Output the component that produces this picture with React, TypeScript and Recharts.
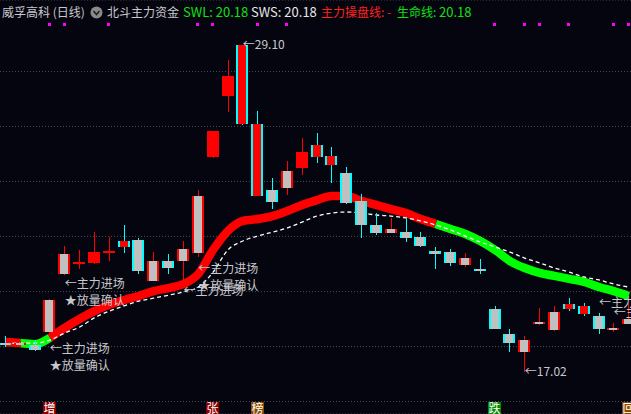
import React from 'react';
import { ComposedChart, Bar, Line, Scatter, XAxis, YAxis, CartesianGrid } from 'recharts';

const W = 631;
const H = 414;
const BG = '#05050f';
const RED = '#ff0000';
const CYAN = '#00ffff';
const GRAY = '#c0c0c0';
const TEXT = '#c8c8cc';
const CJK = '"Noto Sans CJK SC", "Noto Sans", sans-serif';

// ---- data ----
const opens = [18.11, 18.02, 18.02, 18.5, 20.64, 21.03, 21.05, 21.42, 21.86, 21.9, 20.39, 21.13, 21.13, 21.43, 24.96, 27.23, 29.1, 26.18, 23.74, 23.83, 24.57, 25.41, 25.0, 24.36, 23.35, 22.44, 22.14, 22.19, 22.0, 21.49, 21.45, 20.98, 20.84, 19.34, 18.42, 17.77, 18.8, 18.57, 19.53, 19.47, 19.09, 18.57, 18.79];
const closes = [18.0, 18.09, 17.85, 19.68, 21.38, 21.1, 21.46, 21.49, 21.64, 20.76, 21.13, 20.87, 21.56, 23.52, 25.92, 27.96, 26.19, 23.53, 23.31, 24.45, 25.15, 24.97, 24.67, 23.27, 22.45, 22.14, 22.3, 21.98, 21.69, 21.37, 21.04, 21.23, 20.74, 18.62, 18.08, 18.2, 18.88, 19.24, 19.35, 19.15, 18.61, 18.66, 18.98];
const highs = [18.35, 18.17, 18.2, 19.72, 21.67, 21.53, 22.2, 22.0, 22.45, 21.98, 21.45, 21.38, 21.86, 23.74, 25.94, 28.55, 29.1, 26.66, 24.2, 24.81, 25.68, 25.86, 25.34, 24.6, 23.6, 22.88, 22.7, 22.7, 22.19, 21.63, 21.56, 21.41, 21.18, 19.46, 18.61, 18.35, 19.4, 19.47, 19.76, 19.58, 19.19, 18.84, 19.57];
const lows = [17.94, 17.94, 17.8, 18.46, 20.6, 20.83, 21.03, 21.13, 21.43, 20.64, 20.37, 20.64, 20.42, 21.26, 24.94, 26.64, 26.14, 23.52, 23.07, 23.56, 24.3, 24.75, 24.01, 23.23, 21.98, 22.08, 22.13, 21.83, 21.65, 20.81, 20.94, 20.91, 20.63, 18.61, 17.77, 17.02, 18.79, 18.53, 19.27, 19.1, 18.42, 18.51, 18.78];
// 1 = body drawn solid (主力 highlighted day)
const solidBody = [0, 0, 0, 0, 0, 1, 1, 1, 1, 0, 0, 0, 0, 0, 1, 1, 1, 1, 0, 0, 1, 1, 1, 0, 0, 0, 0, 0, 0, 0, 0, 0, 0, 0, 0, 0, 0, 0, 1, 1, 0, 0, 0];

// 生命线 / 主力操盘线 (thick) and SWS (dashed)
const lifeLine = [18.13, 18.09, 18.05, 18.28, 18.65, 18.98, 19.27, 19.5, 19.68, 19.83, 20.01, 20.12, 20.27, 20.64, 21.53, 22.23, 22.6, 22.67, 22.78, 22.97, 23.19, 23.37, 23.52, 23.52, 23.34, 23.19, 23.04, 22.89, 22.67, 22.49, 22.3, 22.12, 21.86, 21.53, 21.12, 20.86, 20.68, 20.57, 20.46, 20.35, 20.16, 20.01, 19.83];
// trend of each segment i -> i+1 : r = 主力操盘 (red), g = 生命线 (green)
const lifeTrend = ['r', 'g', 'g', 'r', 'r', 'r', 'r', 'r', 'r', 'r', 'r', 'r', 'r', 'r', 'r', 'r', 'r', 'r', 'r', 'r', 'r', 'r', 'r', 'r', 'r', 'r', 'r', 'r', 'r', 'g', 'g', 'g', 'g', 'g', 'g', 'g', 'g', 'g', 'g', 'g', 'g', 'g'];
const swsLine = [18.05, 18.09, 18.09, 18.2, 18.46, 18.68, 19.02, 19.27, 19.46, 19.64, 19.75, 19.86, 19.98, 20.16, 20.71, 21.53, 21.86, 22.04, 22.19, 22.34, 22.56, 22.78, 22.89, 22.93, 22.89, 22.82, 22.78, 22.71, 22.6, 22.45, 22.27, 22.04, 21.82, 21.64, 21.45, 21.23, 21.05, 20.86, 20.71, 20.53, 20.42, 20.27, 20.16];

const gridPrices = [15.93, 17.96, 19.99, 22.03, 24.06, 26.09, 28.12];
const Y_DOMAIN = [15.47, 30.76];
const X_DOMAIN = [-0.36, 42.16];

const notes = [
  { i: 3, price: 17.87, lines: ['←主力进场', '★放量确认'] },
  { i: 4, price: 20.27, lines: ['←主力进场', '★放量确认'] },
  { i: 12, price: 20.01, lines: ['←主力进场'] },
  { i: 13, price: 20.83, lines: ['←主力进场', '★放量确认'] },
  { i: 40, price: 19.57, lines: ['←主力进场'] },
  { i: 41, price: 19.2, lines: ['←主力进场'] },
];
const extremes = [
  { i: 16, price: 29.1, text: '←29.10' },
  { i: 35, price: 17.02, text: '←17.02' },
];
const signalDays = [3, 4, 7, 13, 14, 17, 19, 33, 35, 36, 38, 41, 42];
const SIGNAL_ROW = 29.89;
const badges = [
  { i: 3, ch: '增', kind: 'red' },
  { i: 14, ch: '张', kind: 'red' },
  { i: 17, ch: '榜', kind: 'brown' },
  { i: 33, ch: '跌', kind: 'green' },
  { i: 42, ch: '回', kind: 'brown' },
];
const BADGE_ROW = 15.71;

// ---- build tables ----
const rows = opens.map((o, i) => {
  const redOn = lifeTrend[i] === 'r' || lifeTrend[i - 1] === 'r';
  const greenOn = lifeTrend[i] === 'g' || lifeTrend[i - 1] === 'g';
  return {
    i,
    open: o,
    close: closes[i],
    high: highs[i],
    low: lows[i],
    solid: solidBody[i],
    range: [lows[i], highs[i]],
    lifeRed: redOn ? lifeLine[i] : null,
    lifeGreen: greenOn ? lifeLine[i] : null,
    sws: swsLine[i],
  };
});
const signalData = signalDays.map((i) => ({ i, v: SIGNAL_ROW }));
const badgeData = badges.map((b) => ({ ...b, v: BADGE_ROW }));

const Candle = (props: any) => {
  const { x, y, width, height, payload } = props;
  if (x == null || y == null || !payload) return null;
  const h = Math.abs(height);
  const top0 = Math.min(y, y + height);
  const ppu = h / (payload.high - payload.low);
  const py = (v: number) => top0 + (payload.high - v) * ppu;
  const up = payload.close >= payload.open;
  const edge = up ? RED : CYAN;
  const fill = payload.solid ? RED : GRAY;
  const cx = Math.round(x + width / 2);
  const bt = Math.round(py(Math.max(payload.open, payload.close)));
  const bb = Math.round(py(Math.min(payload.open, payload.close)));
  const bh = Math.max(bb - bt, 2);
  const left = cx - 6;
  return (
    <g shapeRendering="crispEdges">
      <rect x={cx} y={Math.round(top0)} width={1} height={Math.max(Math.round(h), 1)} fill={edge} />
      <rect x={left} y={bt} width={12} height={bh} fill={edge} />
      <rect x={left + 2} y={bt} width={8} height={bh} fill={fill} />
    </g>
  );
};

const NoteShape = (props: any) => {
  const { cx, cy, payload } = props;
  return (
    <g>
      {payload.lines.map((t: string, k: number) => (
        <text key={k} x={cx} y={cy + k * 17} dy="0.36em" fill={TEXT} fontSize={12} fontFamily={CJK}>
          {t}
        </text>
      ))}
    </g>
  );
};

const ExtremeShape = (props: any) => {
  const { cx, cy, payload } = props;
  return (
    <text x={cx} y={cy} dy="0.36em" fill={TEXT} fontSize={12} fontFamily={CJK}>
      {payload.text}
    </text>
  );
};

const SignalShape = (props: any) => {
  const { cx, cy } = props;
  return <rect x={Math.round(cx) - 2} y={Math.round(cy) - 1} width={3} height={3} fill="#ff00ff" />;
};

const badgeColor: Record<string, string> = { red: '#8e0000', brown: '#8a4a00', green: '#008a00' };
const BadgeShape = (props: any) => {
  const { cx, cy, payload } = props;
  const x = Math.round(cx) - 7;
  const y = Math.round(cy) - 6;
  return (
    <g>
      <rect x={x} y={y} width={13} height={14} fill={badgeColor[payload.kind]} />
      <text x={x + 6.5} y={y + 7} dy="0.36em" textAnchor="middle" fill="#ffffff" fontSize={12} fontFamily={CJK}>
        {payload.ch}
      </text>
    </g>
  );
};

const Title = () => {
  const base: React.CSSProperties = { position: 'absolute', top: 3, lineHeight: '18px', fontFamily: CJK, whiteSpace: 'nowrap' };
  return (
    <>
      <span style={{ ...base, left: 2, fontSize: 12, color: TEXT }}>威孚高科 (日线)</span>
      <svg style={{ position: 'absolute', left: 90, top: 6 }} width={13} height={13}>
        <circle cx={6.5} cy={6.5} r={6} fill="#8a8a8a" />
        <path d="M3.5 5 L6.5 8.5 L9.5 5" stroke="#202020" strokeWidth={1.6} fill="none" />
      </svg>
      <span style={{ ...base, left: 107, fontSize: 12, color: TEXT }}>北斗主力资金</span>
      <span style={{ ...base, left: 183, fontSize: 13, color: '#10e010' }}>SWL: 20.18</span>
      <span style={{ ...base, left: 251, fontSize: 13, color: '#e8e8e8' }}>SWS: 20.18</span>
      <span style={{ ...base, left: 321, fontSize: 12, color: '#ff2020' }}>主力操盘线: -</span>
      <span style={{ ...base, left: 397, fontSize: 12, color: '#10e010' }}>生命线: <span style={{ fontSize: 13 }}>20.18</span></span>
    </>
  );
};

export default function App() {
  return (
    <div style={{ position: 'fixed', left: 0, top: 0, width: W, height: H, background: BG, overflow: 'hidden' }}>
      <ComposedChart width={W} height={H} data={rows} margin={{ top: 0, right: 0, bottom: 0, left: 0 }}>
        <XAxis type="number" dataKey="i" domain={X_DOMAIN} allowDataOverflow hide />
        <YAxis type="number" domain={Y_DOMAIN} ticks={gridPrices} allowDataOverflow hide />
        <CartesianGrid vertical={false} stroke="#4a4a55" strokeDasharray="1 2" />
        <Line dataKey="lifeRed" type="monotone" stroke={RED} strokeWidth={8.5} dot={false} activeDot={false} connectNulls={false} isAnimationActive={false} />
        <Line dataKey="lifeGreen" type="monotone" stroke="#00ff00" strokeWidth={8.5} dot={false} activeDot={false} connectNulls={false} isAnimationActive={false} />
        <Line dataKey="sws" type="monotone" stroke="#ffffff" strokeWidth={1.3} strokeDasharray="4 3" dot={false} activeDot={false} isAnimationActive={false} />
        <Bar dataKey="range" barSize={12} shape={Candle} isAnimationActive={false} zIndex={500} />
        <Scatter data={notes} dataKey="price" shape={NoteShape} isAnimationActive={false} zIndex={600} />
        <Scatter data={extremes} dataKey="price" shape={ExtremeShape} isAnimationActive={false} zIndex={600} />
        <Scatter data={signalData} dataKey="v" shape={SignalShape} isAnimationActive={false} zIndex={600} />
        <Scatter data={badgeData} dataKey="v" shape={BadgeShape} isAnimationActive={false} zIndex={600} />
      </ComposedChart>
      <Title />
    </div>
  );
}
